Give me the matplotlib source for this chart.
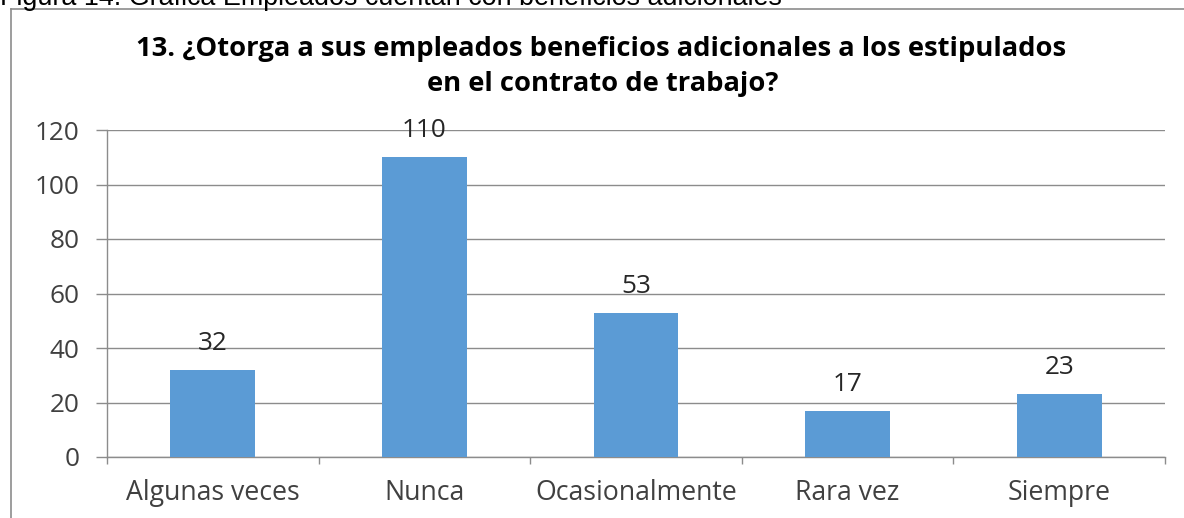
import matplotlib
matplotlib.use("Agg")
import matplotlib.pyplot as plt
from matplotlib.lines import Line2D
from matplotlib.ticker import FixedLocator

categories = ["Algunas veces", "Nunca", "Ocasionalmente", "Rara vez", "Siempre"]
values = [32, 110, 53, 17, 23]
yticks = [0, 20, 40, 60, 80, 100, 120]
title_lines = ["13. ¿Otorga a sus empleados beneficios adicionales a los estipulados",
               "en el contrato de trabajo?"]
caption = "Figura 14. Gráfica Empleados cuentan con beneficios adicionales"

W, H = 1184, 518
fig = plt.figure(figsize=(W / 100, H / 100), dpi=100)
fig.patch.set_facecolor("white")
renderer = fig.canvas.get_renderer()


def fit_size(text, family, weight, target_px, base=10.0):
    t = fig.text(0, 0, text, fontsize=base, family=family, fontweight=weight)
    w = t.get_window_extent(renderer).width
    t.remove()
    return base * target_px / w


font = "Open Sans"
tick_fs = fit_size("120", font, "normal", 45)
cat_fs = fit_size("Algunas veces", font, "normal", 174)
title_fs = fit_size(title_lines[0], font, "bold", 933)
cap_fs = fit_size(caption, "Liberation Sans", "normal", 783)

ax = fig.add_axes([107 / W, 1 - 457 / H, (1165 - 107) / W, (457 - 130) / H])
x = list(range(len(categories)))
ax.bar(x, values, width=0.40, color="#5B9BD5", zorder=3)
ax.set_xlim(-0.5, len(categories) - 0.5)
ax.set_ylim(0, 120)
ax.set_yticks(yticks)
ax.set_xticks(x)
ax.set_xticklabels(categories)
ax.xaxis.set_minor_locator(FixedLocator([i - 0.5 for i in range(len(categories) + 1)]))

grid_c = "#8C8C8C"
ax.grid(axis="y", color=grid_c, linewidth=1.0, zorder=0)
for s in ["top", "right"]:
    ax.spines[s].set_visible(False)
for s in ["left", "bottom"]:
    ax.spines[s].set_color(grid_c)
    ax.spines[s].set_linewidth(1.0)

ax.tick_params(axis="y", length=8, width=1.0, color=grid_c, pad=12,
               labelsize=tick_fs, labelcolor="#404040")
ax.tick_params(axis="x", which="major", length=0, pad=16,
               labelsize=cat_fs, labelcolor="#404040")
ax.tick_params(axis="x", which="minor", length=5, width=1.0, color=grid_c)
for lab in ax.get_xticklabels() + ax.get_yticklabels():
    lab.set_fontfamily(font)

for xi, v in zip(x, values):
    ax.annotate(str(v), (xi, v), xytext=(0, 19), textcoords="offset points",
                ha="center", va="center", fontsize=tick_fs, family=font, color="#262626")

fig.text(601.5 / W, 1 - 56 / H, title_lines[0], ha="center", va="baseline",
         fontsize=title_fs, fontweight="bold", family=font, color="black")
fig.text(603 / W, 1 - 91 / H, title_lines[1], ha="center", va="baseline",
         fontsize=title_fs, fontweight="bold", family=font, color="black")

# caption cut off at the top (as in the reference crop)
fig.text(0.0, 1 - 5 / H, caption, ha="left", va="baseline", fontsize=cap_fs,
         family="Liberation Sans", color="black")

# chart frame (left and top edges visible)
fig.add_artist(Line2D([10.5 / W, 10.5 / W], [0, 1 - 8.5 / H], transform=fig.transFigure,
                      color="#8C8C8C", linewidth=1.2))
fig.add_artist(Line2D([10.5 / W, 1], [1 - 8.5 / H, 1 - 8.5 / H], transform=fig.transFigure,
                      color="#8C8C8C", linewidth=1.2))

fig.savefig("out.png", dpi=100, facecolor="white")
